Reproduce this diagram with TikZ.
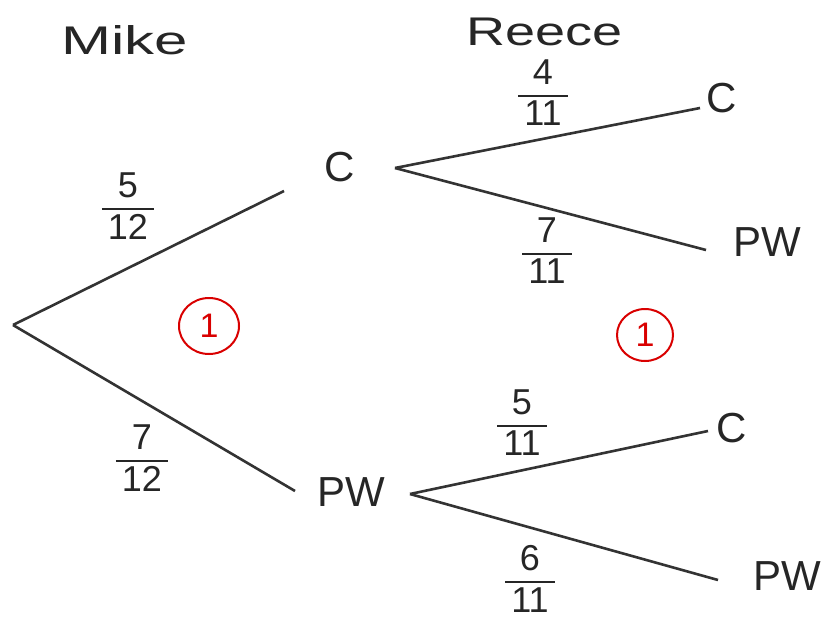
\documentclass[tikz,border=0pt]{standalone}
\usepackage{fontspec}
\setmainfont{Liberation Sans}
\usetikzlibrary{shapes.geometric}
\newcommand\handfrac[2]{{\setlength{\arrayrulewidth}{2.4pt}\renewcommand{\arraystretch}{0.9}\begin{tabular}{@{\,}c@{\,}}#1\\\hline\noalign{\vskip4pt}#2\end{tabular}}}
\begin{document}
\begin{tikzpicture}[x=1pt,y=-1pt,
  branch/.style={line width=2.6pt, draw=black!80},
  outcome/.style={font=\fontsize{42}{44}\selectfont, inner sep=0pt, text=black!85},
  fraclabel/.style={font=\fontsize{36}{38}\selectfont, inner sep=0pt, text=black!85},
  header/.style={font=\fontsize{40}{42}\selectfont, inner sep=0pt, text=black!85},
  redmark/.style={draw=red!85!black, line width=2pt, ellipse, text=red!85!black,
    font=\fontsize{34}{36}\selectfont, minimum width=60pt, minimum height=56pt, inner sep=0pt}]
\useasboundingbox (0,0) rectangle (826,621);
\fill[white] (0,0) rectangle (826,621);

% headers
\node[header, xscale=1.5] (mike) at (125,40) {Mike};
\node[header, xscale=1.35] (reece) at (545,32) {Reece};

% root and outcomes
\coordinate (root) at (13,325);
\node[outcome] (C1) at (340,167) {C};
\node[outcome] (P1) at (351,492) {PW};
\node[outcome] (C2) at (722,98) {C};
\node[outcome] (P2) at (767,242) {PW};
\node[outcome] (C3) at (732,428) {C};
\node[outcome] (P3) at (787,576) {PW};

% branch end points (hand-drawn lines stop short of letters)
\coordinate (C1in) at (284,191);
\coordinate (P1in) at (295,491);
\coordinate (C1out) at (395,168);
\coordinate (P1out) at (410,494);
\coordinate (C2in) at (700,108);
\coordinate (P2in) at (706,250);
\coordinate (C3in) at (708,431);
\coordinate (P3in) at (718,580);

\draw[branch] (root) -- (C1in);
\draw[branch] (root) -- (P1in);
\draw[branch] (C1out) -- (C2in);
\draw[branch] (C1out) -- (P2in);
\draw[branch] (P1out) -- (C3in);
\draw[branch] (P1out) -- (P3in);

% probabilities
\node[fraclabel] (f1) at (128,211) {\handfrac{5}{12}};
\node[fraclabel] (f2) at (142,463) {\handfrac{7}{12}};
\node[fraclabel] (f3) at (543,98) {\handfrac{4}{11}};
\node[fraclabel] (f4) at (547,256) {\handfrac{7}{11}};
\node[fraclabel] (f5) at (522,428) {\handfrac{5}{11}};
\node[fraclabel] (f6) at (530,584) {\handfrac{6}{11}};

% marks
\node[redmark] (m1) at (209,326) {1};
\node[redmark, minimum width=56pt, minimum height=52pt] (m2) at (645,335) {1};
\end{tikzpicture}
\end{document}
